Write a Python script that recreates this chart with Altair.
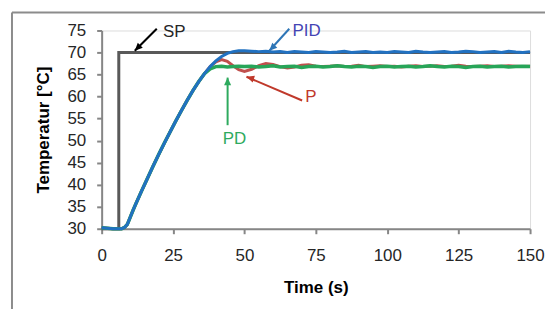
import altair as alt
import pandas as pd

# ---------------- data ----------------
t_all = [0, 2, 4, 6, 7, 8, 9, 10, 11, 12, 14, 16, 18, 20, 22, 24, 26, 28, 30, 32,
         34, 36, 38, 40, 42, 44, 46, 48,
         50, 52.5, 55, 57.5, 60, 62.5, 65, 67.5, 70, 72.5, 75, 77.5, 80, 82.5, 85,
         87.5, 90, 92.5, 95, 97.5, 100, 102.5, 105, 107.5, 110, 112.5, 115, 117.5,
         120, 122.5, 125, 127.5, 130, 132.5, 135, 137.5, 140, 142.5, 145, 147.5, 150]

pid_vals = [30.2, 30.1, 30.0, 30.0, 30.0, 30.3, 31.0, 32.6, 34.2, 35.7,
            38.6, 41.4, 44.2, 46.9, 49.5, 52.0, 54.5, 56.9, 59.2, 61.4,
            63.4, 65.2, 66.8, 68.1, 69.1, 69.8, 70.2, 70.4,
            70.4, 70.3, 70.2, 70.3, 70.1, 70.2, 70.0, 70.2, 70.1, 70.0,
            70.2, 70.1, 70.0, 70.1, 70.3, 70.0, 70.1, 70.2, 70.0, 70.1,
            70.0, 70.2, 70.1, 70.0, 70.3, 70.1, 70.0, 70.1, 70.2, 70.0,
            70.1, 70.3, 70.2, 70.0, 70.1, 70.2, 70.0, 70.3, 70.1, 70.0, 70.2]

p_vals = pid_vals[:22] + [
            66.8, 67.9, 68.4, 68.0, 67.0, 66.1,
            65.7, 66.2, 67.0, 67.5, 67.3, 66.8, 66.5, 66.7, 67.1, 67.2,
            66.9, 66.8, 66.9, 67.0, 66.8, 66.9, 67.1, 66.8, 66.9, 67.0,
            66.8, 66.9, 66.7, 66.9, 67.0, 66.8, 66.9, 67.0, 66.8, 66.9,
            67.1, 66.9, 66.8, 66.9, 67.0, 66.8, 66.9, 67.0, 66.9, 66.8, 66.9]

pd_vals = pid_vals[:22] + [
            66.3, 66.8, 66.9, 66.7, 66.8, 66.9,
            66.8, 66.9, 66.7, 66.8, 67.0, 66.7, 66.8, 66.9, 66.6, 66.8,
            66.9, 66.7, 66.8, 67.0, 66.8, 66.7, 66.9, 66.8, 66.6, 66.8,
            66.9, 66.7, 66.8, 66.9, 66.7, 66.8, 67.0, 66.8, 66.7, 66.9,
            66.8, 66.6, 66.8, 66.9, 66.7, 66.8, 66.9, 66.7, 66.8, 66.9, 66.8]

sp_t = [0, 6, 6, 150]
sp_vals = [30, 30, 70, 70]

assert len(t_all) == len(pid_vals) == len(p_vals) == len(pd_vals), (
    len(t_all), len(pid_vals), len(p_vals), len(pd_vals))

x_ticks = [0, 25, 50, 75, 100, 125, 150]
y_ticks = [30, 35, 40, 45, 50, 55, 60, 65, 70, 75]

# annotations: label, text position, arrow start, arrow tip, colours
ann_label = ["SP", "PID", "P", "PD"]
ann_tx = [21.5, 66.8, 71.3, 46.5]
ann_ty = [74.7, 74.9, 60.0, 50.3]
ann_align = ["left", "left", "left", "center"]
ann_text_color = ["#262626", "#4444B4", "#C0392B", "#2EAA5E"]
arr_t1 = [19.3, 65.7, 70.2, 44.1]
arr_T1 = [75.4, 75.4, 59.1, 53.5]
arr_t2 = [11.6, 58.7, 50.7, 44.1]
arr_T2 = [70.4, 70.4, 64.5, 64.3]
arr_angle = [225, 225, 288, 0]
arr_color = ["#000000", "#2E75B6", "#C0392B", "#2EAA5E"]

# ---------------- tables ----------------
df_sp = pd.DataFrame({"t": sp_t, "T": sp_vals})
df_pid = pd.DataFrame({"t": t_all, "T": pid_vals})
df_p = pd.DataFrame({"t": t_all, "T": p_vals})
df_pd = pd.DataFrame({"t": t_all, "T": pd_vals})
df_ann = pd.DataFrame({"label": ann_label, "t": ann_tx, "T": ann_ty,
                       "align": ann_align, "c": ann_text_color})
df_arr = pd.DataFrame({"t": arr_t1, "T": arr_T1, "t2": arr_t2, "T2": arr_T2,
                       "ang": arr_angle, "c": arr_color})

FONT = "Liberation Sans"
W, H = 430, 199

xs = alt.Scale(domain=[0, 150], nice=False)
ys = alt.Scale(domain=[30, 75], nice=False, zero=False)

axis_common = dict(
    grid=False, labelFontSize=17, titleFontSize=17, titleFontWeight="bold",
    labelColor="#262626", titleColor="#000000", domainColor="#868686",
    tickColor="#868686", domainWidth=2, tickWidth=2, tickSize=5,
    labelFont=FONT, titleFont=FONT, labelOverlap=False, labelFlush=False)

X = alt.X("t:Q", scale=xs, axis=alt.Axis(
    values=x_ticks, title="Time (s)", labelPadding=14, titlePadding=16,
    **axis_common))
Y = alt.Y("T:Q", scale=ys, axis=alt.Axis(
    values=y_ticks, title="Temperatur [°C]", labelPadding=11, titlePadding=14,
    **axis_common))

sp_line = alt.Chart(df_sp).mark_line(color="#595959", strokeWidth=3).encode(
    x=X, y=Y)
p_line = alt.Chart(df_p).mark_line(color="#C0504D", strokeWidth=3).encode(
    x=X, y=Y, order="t:Q")
pd_line = alt.Chart(df_pd).mark_line(color="#27A558", strokeWidth=3.5).encode(
    x=X, y=Y, order="t:Q")
pid_line = alt.Chart(df_pid).mark_line(color="#2171C1", strokeWidth=3).encode(
    x=X, y=Y, order="t:Q")

one = pd.DataFrame({"a": [0]})
frame_top = alt.Chart(one).mark_rule(stroke="#8C8C8C", strokeWidth=2).encode(
    x=alt.value(-90), x2=alt.value(700), y=alt.value(-18))
frame_left = alt.Chart(one).mark_rule(stroke="#8C8C8C", strokeWidth=2).encode(
    x=alt.value(-90), y=alt.value(-18), y2=alt.value(400))

arrows = alt.Chart(df_arr).mark_rule(strokeWidth=2).encode(
    x=X, y=Y, x2="t2:Q", y2="T2:Q",
    color=alt.Color("c:N", scale=None))
heads = alt.Chart(df_arr).mark_point(
    shape="M0,0L-0.5,1.1L0.5,1.1Z", filled=True, opacity=1, size=200).encode(
    x=alt.X("t2:Q", scale=xs, axis=alt.Axis(values=x_ticks, title="Time (s)",
            labelPadding=14, titlePadding=16, **axis_common)),
    y=alt.Y("T2:Q", scale=ys, axis=alt.Axis(values=y_ticks,
            title="Temperatur [°C]", labelPadding=11, titlePadding=14,
            **axis_common)),
    angle=alt.Angle("ang:Q", scale=None),
    color=alt.Color("c:N", scale=None))

texts = []
for al in ["left", "center"]:
    texts.append(alt.Chart(df_ann[df_ann["align"] == al]).mark_text(
        align=al, baseline="middle", fontSize=17, font=FONT).encode(
        x=X, y=Y, text="label:N",
        color=alt.Color("c:N", scale=None)))

chart = alt.layer(
    frame_top, frame_left, sp_line, p_line, pd_line, pid_line, arrows, heads,
    *texts
).properties(
    width=W, height=H,
    autosize=alt.AutoSizeParams(type="none"),
    padding={"left": 94, "top": 22, "right": 15, "bottom": 80},
).configure_view(stroke=None).configure(background="white")

chart.save("out.html", embed_options={"renderer": "svg", "actions": False})
